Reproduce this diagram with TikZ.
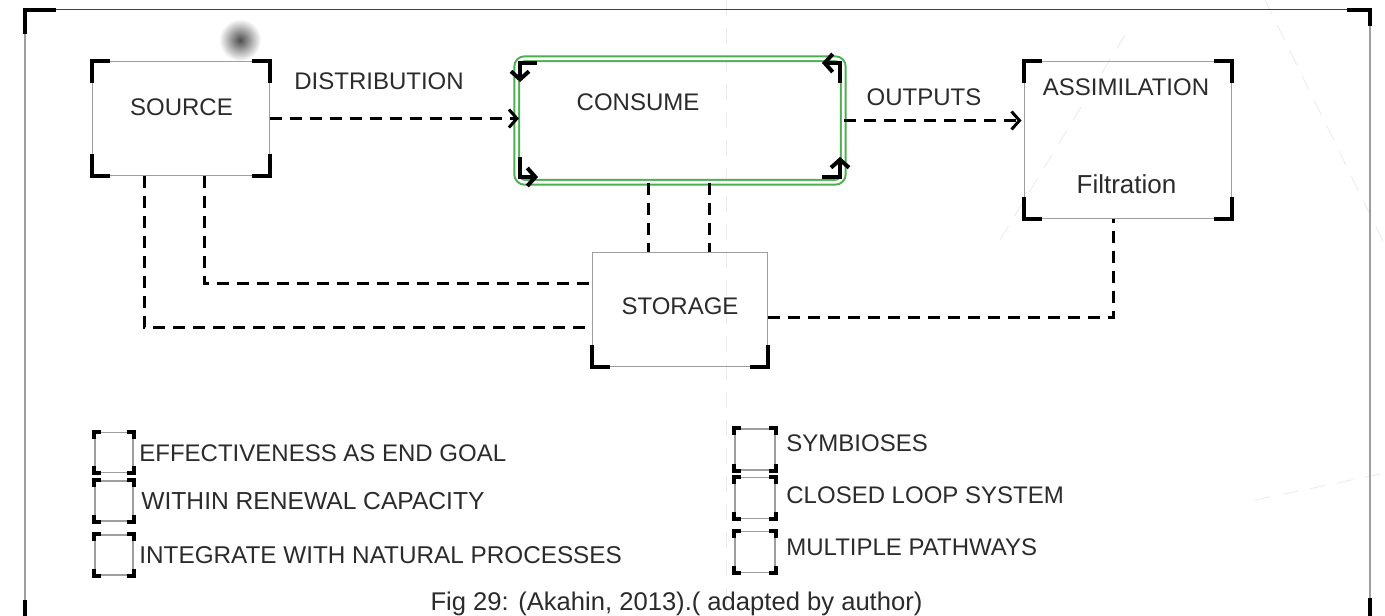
\documentclass[tikz,border=0pt]{standalone}
\usepackage{fontspec}
\setmainfont{Liberation Sans}
\usetikzlibrary{arrows.meta,calc}
\definecolor{txt}{HTML}{2B2B2B}
\definecolor{grn}{HTML}{4CAF50}
\definecolor{edge}{HTML}{9E9E9E}
\tikzset{
  plainbox/.style={draw=edge, line width=0.5pt, inner sep=0pt},
  legbox/.style={draw=edge, line width=0.7pt, inner sep=0pt, minimum width=19pt, minimum height=20pt},
  bracket/.style={draw=black, line width=2pt, line cap=rect},
  smallbracket/.style={draw=black, line width=2pt},
  conn/.style={draw=black, line width=1.5pt, dash pattern=on 6pt off 4pt},
  tip/.style={-{Straight Barb[length=4pt,width=9pt]}},
  lbl/.style={text=txt, font=\fontsize{12pt}{14pt}\selectfont, inner sep=0pt},
  faint/.style={draw=black!8, line width=0.4pt, dash pattern=on 8pt off 6pt}
}
\newcommand\boxcorners[3]{%
  \draw[bracket] ([yshift=-#3]#1.north west) -- (#1.north west) -- ([xshift=#2]#1.north west);
  \draw[bracket] ([yshift=-#3]#1.north east) -- (#1.north east) -- ([xshift=-#2]#1.north east);
  \draw[bracket] ([yshift=#3]#1.south west) -- (#1.south west) -- ([xshift=#2]#1.south west);
  \draw[bracket] ([yshift=#3]#1.south east) -- (#1.south east) -- ([xshift=-#2]#1.south east);
}
\newcommand\legcorners[1]{%
  \draw[smallbracket] ([yshift=-3.5pt]#1.north west) -- (#1.north west) -- ([xshift=3.5pt]#1.north west);
  \draw[smallbracket] ([yshift=-3.5pt]#1.north east) -- (#1.north east) -- ([xshift=-3.5pt]#1.north east);
  \draw[smallbracket] ([yshift=3.5pt]#1.south west) -- (#1.south west) -- ([xshift=3.5pt]#1.south west);
  \draw[smallbracket] ([yshift=3.5pt]#1.south east) -- (#1.south east) -- ([xshift=-3.5pt]#1.south east);
}
\begin{document}
\begin{tikzpicture}[x=0.5pt,y=-0.5pt]
\useasboundingbox (0,0) rectangle (1385,615);
\fill[white] (0,0) rectangle (1385,615);
% faint background lines
\draw[faint] (726,0) -- (726,615);
\draw[faint] (1265,0) -- (1385,245);
\draw[faint] (1125,35) -- (1000,240);
\draw[faint] (1255,500) -- (1385,473);
% outer frame
\draw[edge, line width=0.6pt] (25,615) -- (25,10);
\draw[black!75, line width=0.5pt] (25,10) -- (1370,10);
\draw[edge, line width=0.6pt] (1370,10) -- (1370,615);
\draw[bracket] (25,32) -- (25,10) -- (54,10);
\draw[bracket] (1349,10) -- (1370,10) -- (1370,24);
\draw[bracket] (25,602) -- (25,615);
\draw[bracket] (1370,600) -- (1370,615);
% blurred dot
\shade[inner color=black!70, outer color=white] (240,40) circle (10.5pt);

% boxes
\node[plainbox, minimum width=88.5pt, minimum height=56.5pt] (src) at (180.5,118.5) {};
\boxcorners{src}{8pt}{10pt}
\node[lbl] (srct) at (181.5,107) {SOURCE};

\node[draw=grn, double=white, double distance=1.4pt, line width=1pt, rounded corners=4pt,
      minimum width=163.25pt, minimum height=61.75pt, inner sep=0pt] (cons) at (680,120.5) {};
\node[lbl] (const) at (638,102) {CONSUME};
\draw[bracket, line cap=butt, tip] (537,63) -- (520,63) -- (520,82);
\draw[bracket, line cap=butt, tip] (520,157) -- (520,177) -- (538,177);
\draw[bracket, line cap=butt, tip] (822,177) -- (840,177) -- (840,157);
\draw[bracket, line cap=butt, tip] (840,83) -- (840,63) -- (822,63);

\node[plainbox, minimum width=103.5pt, minimum height=78pt] (asm) at (1127.5,140) {};
\boxcorners{asm}{8pt}{10pt}
\node[lbl] (asmt) at (1126,87) {ASSIMILATION};
\node[lbl, anchor=base, font=\fontsize{13pt}{15pt}\selectfont] (filt) at (1126.5,193) {Filtration};

\node[plainbox, minimum width=87.5pt, minimum height=57pt] (sto) at (679.5,309) {};
\draw[bracket] ([yshift=10pt]sto.south west) -- (sto.south west) -- ([xshift=8pt]sto.south west);
\draw[bracket] ([yshift=10pt]sto.south east) -- (sto.south east) -- ([xshift=-8pt]sto.south east);
\node[lbl] (stot) at (680,306.5) {STORAGE};

% labels
\node[lbl] (dist) at (379,81) {DISTRIBUTION};
\node[lbl] (outp) at (924,97) {OUTPUTS};

% connectors
\draw[conn, tip] (src.east) -- ([xshift=1.6pt]src.east -| cons.west);
\draw[conn, tip] (cons.east) -- ([xshift=-1pt]cons.east -| asm.west);
\draw[conn] ([xshift=-16pt]cons.south) -- ([xshift=-16pt]cons.south |- sto.north);
\draw[conn] ([xshift=14.5pt]cons.south) -- ([xshift=14.5pt]cons.south |- sto.north);
\draw[conn] ([xshift=11.75pt]src.south) |- ([yshift=13pt]sto.west);
\draw[conn] ([xshift=-18.25pt]src.south) |- ([yshift=-9pt]sto.west);
\draw[conn] ([yshift=-4pt]sto.east) -| ([xshift=-7.25pt]asm.south);

% legend
\node[legbox] (l1) at (114,452.5) {}; \legcorners{l1}
\node[legbox] (l2) at (114,501) {};   \legcorners{l2}
\node[legbox] (l3) at (114,555) {};   \legcorners{l3}
\node[legbox, minimum width=20pt, minimum height=20.5pt] (r1) at (755,449.5) {}; \legcorners{r1}
\node[legbox, minimum width=20pt, minimum height=20.5pt] (r2) at (755,498) {};   \legcorners{r2}
\node[legbox, minimum width=20pt, minimum height=20.5pt] (r3) at (755,552) {};   \legcorners{r3}
\node[lbl, anchor=west] (l1t) at (139,453) {EFFECTIVENESS AS END GOAL};
\node[lbl, anchor=west, font=\fontsize{12.3pt}{14pt}\selectfont] (l2t) at (141,501) {WITHIN RENEWAL CAPACITY};
\node[lbl, anchor=west, font=\fontsize{12.15pt}{14pt}\selectfont] (l3t) at (139,555) {INTEGRATE WITH NATURAL PROCESSES};
\node[lbl, anchor=west] (r1t) at (786,443) {SYMBIOSES};
\node[lbl, anchor=west] (r2t) at (786,495) {CLOSED LOOP SYSTEM};
\node[lbl, anchor=west] (r3t) at (786,547) {MULTIPLE PATHWAYS};

% caption
\node[lbl, anchor=base, font=\fontsize{12.8pt}{15pt}\selectfont] (cap) at (676.5,610) {Fig 29: (Akahin, 2013).( adapted by author)};
\end{tikzpicture}
\end{document}
